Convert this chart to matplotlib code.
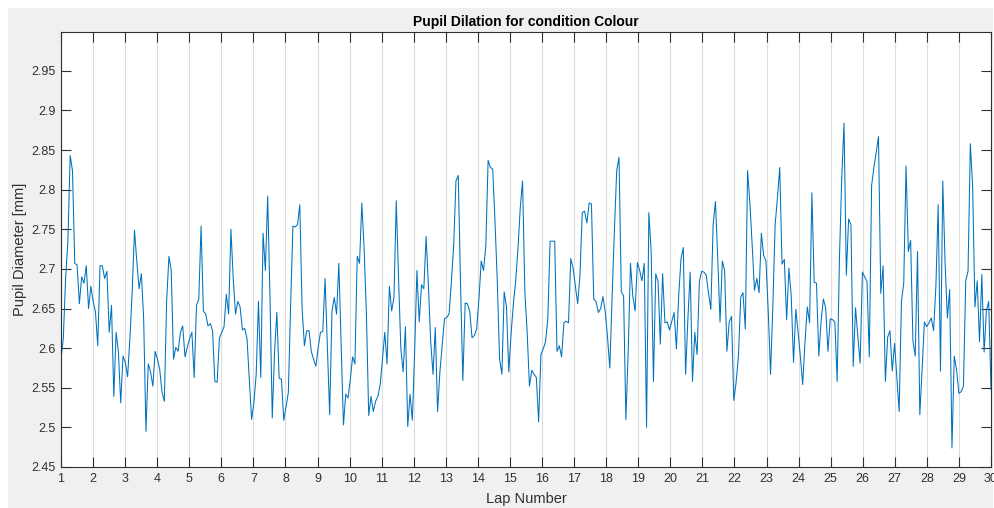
import numpy as np
import matplotlib
matplotlib.use('Agg')
import matplotlib.pyplot as plt
from matplotlib.patches import Rectangle

# pupil diameter samples [mm]
seg1 = [2.586, 2.612, 2.688, 2.735, 2.843, 2.824, 2.707, 2.705, 2.656, 2.690,
        2.682, 2.704, 2.650, 2.678, 2.659, 2.646, 2.603, 2.704, 2.704, 2.688,
        2.697, 2.620, 2.654, 2.539, 2.620, 2.595, 2.531, 2.590, 2.582, 2.564,
        2.612, 2.671, 2.749, 2.710, 2.675, 2.694, 2.637, 2.495, 2.580, 2.570,
        2.552, 2.596, 2.586, 2.573, 2.544, 2.533, 2.659, 2.716, 2.698, 2.586,
        2.601, 2.596, 2.620, 2.628, 2.589, 2.601, 2.612, 2.620, 2.563, 2.654,
        2.662, 2.754, 2.647, 2.643, 2.628, 2.631, 2.622, 2.558]
seg2 = [2.557, 2.613, 2.620, 2.627, 2.668, 2.643, 2.750, 2.688, 2.643, 2.659,
        2.652, 2.623, 2.625, 2.612, 2.561, 2.510, 2.531, 2.567, 2.659, 2.563,
        2.745, 2.698, 2.792, 2.666, 2.512, 2.595, 2.645, 2.562, 2.561, 2.509,
        2.526, 2.544, 2.654, 2.754, 2.753, 2.756, 2.781, 2.650, 2.603, 2.622,
        2.622, 2.596, 2.586, 2.577, 2.601, 2.620, 2.621, 2.688, 2.603, 2.516,
        2.646, 2.664, 2.643, 2.707, 2.603, 2.503, 2.542, 2.537, 2.561, 2.589,
        2.580, 2.716, 2.707, 2.783, 2.726, 2.643, 2.515]
seg3 = [2.539, 2.520, 2.533, 2.539, 2.554, 2.586, 2.620, 2.580, 2.678, 2.647,
        2.664, 2.786, 2.688, 2.599, 2.570, 2.627, 2.501, 2.542, 2.509, 2.595,
        2.698, 2.633, 2.680, 2.675, 2.741, 2.679, 2.608, 2.567, 2.626, 2.520,
        2.570, 2.603, 2.637, 2.639, 2.643, 2.684, 2.729, 2.811, 2.818, 2.679,
        2.559, 2.657, 2.656, 2.646, 2.613, 2.616, 2.624, 2.662, 2.710, 2.698,
        2.729, 2.837, 2.828, 2.826, 2.760, 2.684, 2.586, 2.567, 2.671, 2.652,
        2.570, 2.618, 2.656, 2.684, 2.726, 2.777, 2.811]
seg4 = [2.671, 2.620, 2.552, 2.572, 2.567, 2.563, 2.507, 2.592, 2.599, 2.608,
        2.637, 2.735, 2.735, 2.735, 2.596, 2.603, 2.589, 2.632, 2.634, 2.632,
        2.713, 2.701, 2.678, 2.656, 2.692, 2.771, 2.773, 2.758, 2.783, 2.782,
        2.662, 2.659, 2.645, 2.650, 2.665, 2.646, 2.614, 2.575, 2.665, 2.749,
        2.824, 2.841, 2.671, 2.666, 2.510, 2.595, 2.707, 2.666, 2.647, 2.708,
        2.698, 2.685, 2.707, 2.500, 2.771, 2.722, 2.558, 2.694, 2.684, 2.605,
        2.694, 2.632, 2.633, 2.623, 2.634, 2.645]
seg5 = [2.599, 2.666, 2.713, 2.727, 2.567, 2.637, 2.696, 2.558, 2.620, 2.592,
        2.684, 2.697, 2.696, 2.692, 2.669, 2.649, 2.756, 2.785, 2.713, 2.633,
        2.710, 2.698, 2.596, 2.633, 2.640, 2.534, 2.557, 2.589, 2.664, 2.670,
        2.624, 2.824, 2.783, 2.730, 2.673, 2.688, 2.670, 2.745, 2.717, 2.710,
        2.646, 2.567, 2.654, 2.756, 2.790, 2.828, 2.706, 2.712, 2.636, 2.701,
        2.666, 2.582, 2.649, 2.620, 2.589, 2.554, 2.608, 2.652, 2.632, 2.796,
        2.683, 2.682, 2.590, 2.634, 2.662, 2.651, 2.596, 2.637]
seg6 = [2.636, 2.633, 2.558, 2.713, 2.815, 2.884, 2.692, 2.763, 2.756, 2.577,
        2.651, 2.615, 2.581, 2.696, 2.690, 2.684, 2.589, 2.805, 2.828, 2.847,
        2.867, 2.669, 2.704, 2.558, 2.614, 2.622, 2.571, 2.606, 2.564, 2.520,
        2.659, 2.682, 2.830, 2.722, 2.736, 2.609, 2.590, 2.722, 2.516, 2.573,
        2.633, 2.627, 2.632, 2.638, 2.622, 2.678, 2.781, 2.571, 2.811, 2.708,
        2.638, 2.674, 2.474, 2.590, 2.573, 2.543, 2.545, 2.552, 2.685, 2.697,
        2.858, 2.805, 2.652, 2.685, 2.608, 2.693, 2.595, 2.647, 2.659, 2.548]

pupil = np.array(seg1 + seg2 + seg3 + seg4 + seg5 + seg6)
laps = np.linspace(1, 30, len(pupil))

xticks = list(range(1, 31))
yticks = [2.45, 2.5, 2.55, 2.6, 2.65, 2.7, 2.75, 2.8, 2.85, 2.9, 2.95]
yticklabels = ['2.45', '2.5', '2.55', '2.6', '2.65', '2.7', '2.75', '2.8', '2.85', '2.9', '2.95']

plt.rcParams['font.family'] = ['Liberation Sans', 'DejaVu Sans']
txt = '#303030'

fig = plt.figure(figsize=(9.94, 5.08), dpi=100, facecolor='white')
# grey matlab figure background (screenshot has a thin white margin top/left)
fig.patches.append(Rectangle((8 / 994, 0), 985 / 994, 500 / 508,
                             transform=fig.transFigure, facecolor='#f0f0f0',
                             edgecolor='none', zorder=-5))

ax = fig.add_axes([61 / 994, 41 / 508, 930 / 994, 435 / 508])
ax.set_facecolor('white')
ax.plot(laps, pupil, color='#0072BD', linewidth=0.75)

ax.set_xlim(1, 30)
ax.set_ylim(2.45, 2.999)
ax.set_xticks(xticks)
ax.set_yticks(yticks)
ax.set_yticklabels(yticklabels)
ax.grid(axis='x', color='#dcdcdc', linewidth=0.8)
ax.grid(axis='y', visible=False)
ax.set_axisbelow(True)

ax.tick_params(direction='in', length=7, width=0.8, color='#303030',
               top=True, right=True, labelsize=9, labelcolor=txt, pad=4)
for s in ax.spines.values():
    s.set_color('#303030')
    s.set_linewidth(0.8)

ax.set_title('Pupil Dilation for condition Colour', fontsize=10, fontweight='bold',
             color='black', pad=4)
ax.set_xlabel('Lap Number', fontsize=10.5, color=txt, labelpad=5)
ax.set_ylabel('Pupil Diameter [mm]', fontsize=10.5, color=txt, labelpad=3)

fig.savefig('out.png', dpi=100, facecolor=fig.get_facecolor())
